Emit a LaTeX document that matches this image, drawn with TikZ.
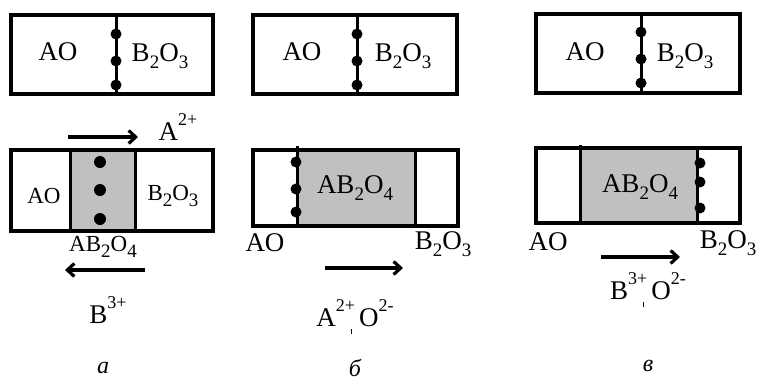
\documentclass[tikz,border=0pt]{standalone}
\usepackage{fontspec}
\setmainfont{Liberation Serif}
\usetikzlibrary{arrows.meta}
\definecolor{spinel}{HTML}{C0C0C0}
\tikzset{
  x=1pt, y=-1pt,
  frame/.style={line width=3.6pt, line join=miter},
  wall/.style={line width=3pt},
  grain/.style={fill=black, draw=none},
  big/.style={font=\fontsize{27}{27}\selectfont, inner sep=0pt},
  mid/.style={font=\fontsize{23}{23}\selectfont, inner sep=0pt},
  tag/.style={font=\fontsize{24}{24}\selectfont\itshape, inner sep=0pt},
  flow/.style={line width=3.4pt, -{Straight Barb[length=7pt,width=13pt,line width=3.2pt]}}
}
\newcommand{\lo}[1]{\raisebox{-0.28em}{\fontsize{19}{19}\selectfont #1}}
\newcommand{\hi}[1]{\raisebox{0.55em}{\fontsize{18}{18}\selectfont #1}}
\newcommand{\sep}{\kern-4pt\raisebox{-8pt}{\rule{1.3pt}{5pt}}\kern7pt}
\begin{document}
\begin{tikzpicture}
\useasboundingbox (0,0) rectangle (758,383);

% ---------- a ----------
\draw[frame] (11,15) rectangle (213,94);
\draw[wall] (116,15) -- (116,94);
\foreach \y in {34,61,85} \fill[grain] (116,\y) circle (5.5);
\node[big] (aAO) at (58,52) {AO};
\node[big] (aBO) at (160,56) {B\lo{2}O\lo{3}};

\fill[spinel] (70,150) rectangle (135,231);
\draw[wall] (70,150) -- (70,231);
\draw[wall] (135,150) -- (135,231);
\draw[frame] (11,150) rectangle (213,231);
\foreach \y in {162,190,219} \fill[grain] (100,\y) circle (6);
\node[mid] (aAO2) at (44,196) {AO};
\node[mid] (aBO2) at (173,196) {B\lo{2}O\lo{3}};
\node[mid] (aABO) at (103,247) {AB\lo{2}O\lo{4}};
\coordinate (aA1) at (68,137); \coordinate (aA2) at (138,137);
\draw[flow] (aA1) -- (aA2);
\node[big, anchor=base] (aAion) at (178,140) {A\hi{2+}};
\coordinate (aB1) at (145,270); \coordinate (aB2) at (65,270);
\draw[flow] (aB1) -- (aB2);
\node[big, anchor=base] (aBion) at (108,323) {B\hi{3+}};
\node[tag] (la) at (103,368) {а};

% ---------- b ----------
\draw[frame] (253,15) rectangle (457,94);
\draw[wall] (357,15) -- (357,94);
\foreach \y in {34,61,85} \fill[grain] (357,\y) circle (5.5);
\node[big] (bAO) at (302,52) {AO};
\node[big] (bBO) at (403,56) {B\lo{2}O\lo{3}};

\fill[spinel] (297,150) rectangle (415,226);
\draw[wall] (297,146) -- (297,226);
\draw[wall] (415,150) -- (415,226);
\draw[frame] (253,150) rectangle (458,226);
\foreach \y in {162,189,212} \fill[grain] (296,\y) circle (5.5);
\node[big] (bABO) at (355,188) {AB\lo{2}O\lo{4}};
\node[big] (bAO2) at (265,243) {AO};
\node[big] (bBO2) at (443,244) {B\lo{2}O\lo{3}};
\coordinate (bA1) at (325,268); \coordinate (bA2) at (403,268);
\draw[flow] (bA1) -- (bA2);
\node[big, anchor=base] (bion) at (355,326) {A\hi{2+}\sep O\hi{2-}};
\node[tag] (lb) at (355,368) {б};

% ---------- c ----------
\draw[frame] (536,14) rectangle (740,93);
\draw[wall] (641,14) -- (641,93);
\foreach \y in {32,59,83} \fill[grain] (641,\y) circle (5.5);
\node[big] (cAO) at (585,52) {AO};
\node[big] (cBO) at (685,56) {B\lo{2}O\lo{3}};

\fill[spinel] (580,148) rectangle (697,223);
\draw[wall] (580,145) -- (580,223);
\draw[wall] (697,148) -- (697,223);
\draw[frame] (536,148) rectangle (740,223);
\foreach \y in {163,182,208} \fill[grain] (700,\y) circle (5.5);
\node[big] (cABO) at (640,187) {AB\lo{2}O\lo{4}};
\node[big] (cAO2) at (548,242) {AO};
\node[big] (cBO2) at (728,243) {B\lo{2}O\lo{3}};
\coordinate (cB1) at (601,257); \coordinate (cB2) at (680,257);
\draw[flow] (cB1) -- (cB2);
\node[big, anchor=base] (cion) at (648,299) {B\hi{3+}\sep O\hi{2-}};
\node[tag] (lc) at (648,366) {в};
\end{tikzpicture}
\end{document}
